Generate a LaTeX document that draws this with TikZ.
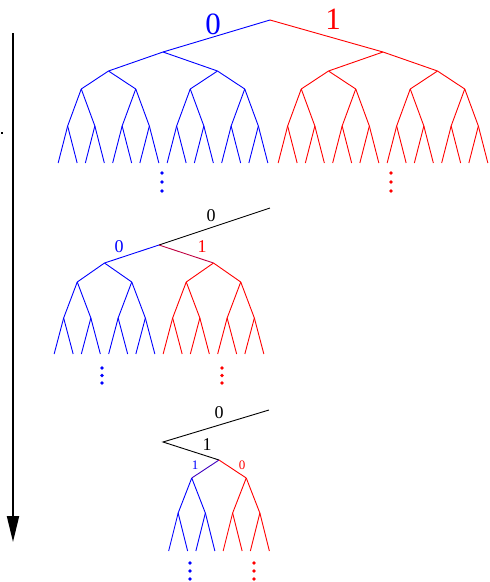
\documentclass[tikz,border=0pt]{standalone}
\usepackage{fontspec}
\setmainfont{Liberation Serif}
\usetikzlibrary{calc,arrows.meta}
\colorlet{c0}{blue}
\colorlet{c1}{red}
\colorlet{purpR}{red!75!blue}
\colorlet{purpB}{blue!75!red}
\tikzset{
  edge/.style={line width=0.9pt},
  bigl/.style={inner sep=0pt,font=\fontsize{31}{31}\selectfont},
  midl/.style={inner sep=0pt,font=\fontsize{18}{18}\selectfont},
  smalll/.style={inner sep=0pt,font=\fontsize{13}{13}\selectfont},
  vdot/.style={circle,inner sep=0pt,minimum size=3.6pt},
}
\begin{document}
\begin{tikzpicture}[x=1pt,y=-1pt]
\useasboundingbox (0,0) rectangle (490,582);
% ---------- arrow ----------
\coordinate (arrS) at (13,33);
\coordinate (arrE) at (13,542);
\draw[line width=2pt,-{Triangle[length=26pt,width=12pt]}] (arrS) -- (arrE);
\fill (1,132) rectangle (3,134);
% ---------- top tree ----------
\coordinate (T) at (270,20);
\coordinate (T0) at (163,52);
\coordinate (T1) at (383,52);
\foreach \a in {0,1} {
  \draw[edge,c\a] (T) -- (T\a);
  \foreach \b in {0,1} {
    \coordinate (T\a\b) at ($(T\a)+({(2*\b-1)*54.5},19)$);
    \draw[edge,c\a] (T\a) -- (T\a\b);
    \foreach \c in {0,1} {
      \coordinate (T\a\b\c) at ($(T\a\b)+({(2*\c-1)*27.25},18)$);
      \draw[edge,c\a] (T\a\b) -- (T\a\b\c);
      \foreach \d in {0,1} {
        \coordinate (T\a\b\c\d) at ($(T\a\b\c)+({(2*\d-1)*13.6},37)$);
        \draw[edge,c\a] (T\a\b\c) -- (T\a\b\c\d);
        \foreach \e in {0,1} {
          \coordinate (T\a\b\c\d\e) at ($(T\a\b\c\d)+({(2*\e-1)*9.5},37)$);
          \draw[edge,c\a] (T\a\b\c\d) -- (T\a\b\c\d\e);
        }
      }
    }
  }
}
\node[bigl,text=blue] (tl0) at (213,24) {0};
\node[bigl,text=red] (tl1) at (333,19) {1};
\foreach \i/\yy in {1/173,2/182,3/191} {
  \node[vdot,fill=blue] (tdb\i) at (162,\yy) {};
  \node[vdot,fill=red] (tdr\i) at (391,\yy) {};
}
% ---------- middle tree ----------
\coordinate (Mtop) at (270,208);
\coordinate (M) at (159,245);
\draw[edge,black] (Mtop) -- (M);
\coordinate (M0) at (104.5,263);
\coordinate (M1) at (213.5,263);
\draw[edge,c0] (M) -- (M0);
\draw[edge,purpR] (M) -- (M1);
\foreach \a in {0,1} {
  \foreach \b in {0,1} {
    \coordinate (M\a\b) at ($(M\a)+({(2*\b-1)*27.25},19)$);
    \draw[edge,c\a] (M\a) -- (M\a\b);
    \foreach \c in {0,1} {
      \coordinate (M\a\b\c) at ($(M\a\b)+({(2*\c-1)*13.6},36)$);
      \draw[edge,c\a] (M\a\b) -- (M\a\b\c);
      \foreach \d in {0,1} {
        \coordinate (M\a\b\c\d) at ($(M\a\b\c)+({(2*\d-1)*9.5},36)$);
        \draw[edge,c\a] (M\a\b\c) -- (M\a\b\c\d);
      }
    }
  }
}
\node[midl,text=black] (ml) at (211,216) {0};
\node[midl,text=blue] (ml0) at (119,247) {0};
\node[midl,text=red] (ml1) at (202,247) {1};
\foreach \i/\yy in {1/368,2/375.5,3/383} {
  \node[vdot,fill=blue] (mdb\i) at (102,\yy) {};
  \node[vdot,fill=red] (mdr\i) at (222,\yy) {};
}
% ---------- bottom tree ----------
\coordinate (Btop) at (269,410);
\coordinate (Bc) at (163,442);
\coordinate (B) at (219,460);
\draw[edge,black] (Btop) -- (Bc) -- (B);
\coordinate (B0) at (191.75,478);
\coordinate (B1) at (246.25,478);
\draw[edge,purpB] (B) -- (B0);
\draw[edge,c1] (B) -- (B1);
\foreach \a in {0,1} {
  \foreach \b in {0,1} {
    \coordinate (B\a\b) at ($(B\a)+({(2*\b-1)*13.6},35)$);
    \draw[edge,c\a] (B\a) -- (B\a\b);
    \foreach \c in {0,1} {
      \coordinate (B\a\b\c) at ($(B\a\b)+({(2*\c-1)*9.5},38)$);
      \draw[edge,c\a] (B\a\b) -- (B\a\b\c);
    }
  }
}
\node[midl,text=black] (bl0) at (219,413) {0};
\node[midl,text=black] (bl1) at (207,445) {1};
\node[smalll,text=blue] (blb) at (195,465) {1};
\node[smalll,text=red] (blr) at (242,465) {0};
\foreach \i/\yy in {1/563,2/571,3/579} {
  \node[vdot,fill=blue] (bdb\i) at (190,\yy) {};
  \node[vdot,fill=red] (bdr\i) at (254,\yy) {};
}
\end{tikzpicture}
\end{document}
